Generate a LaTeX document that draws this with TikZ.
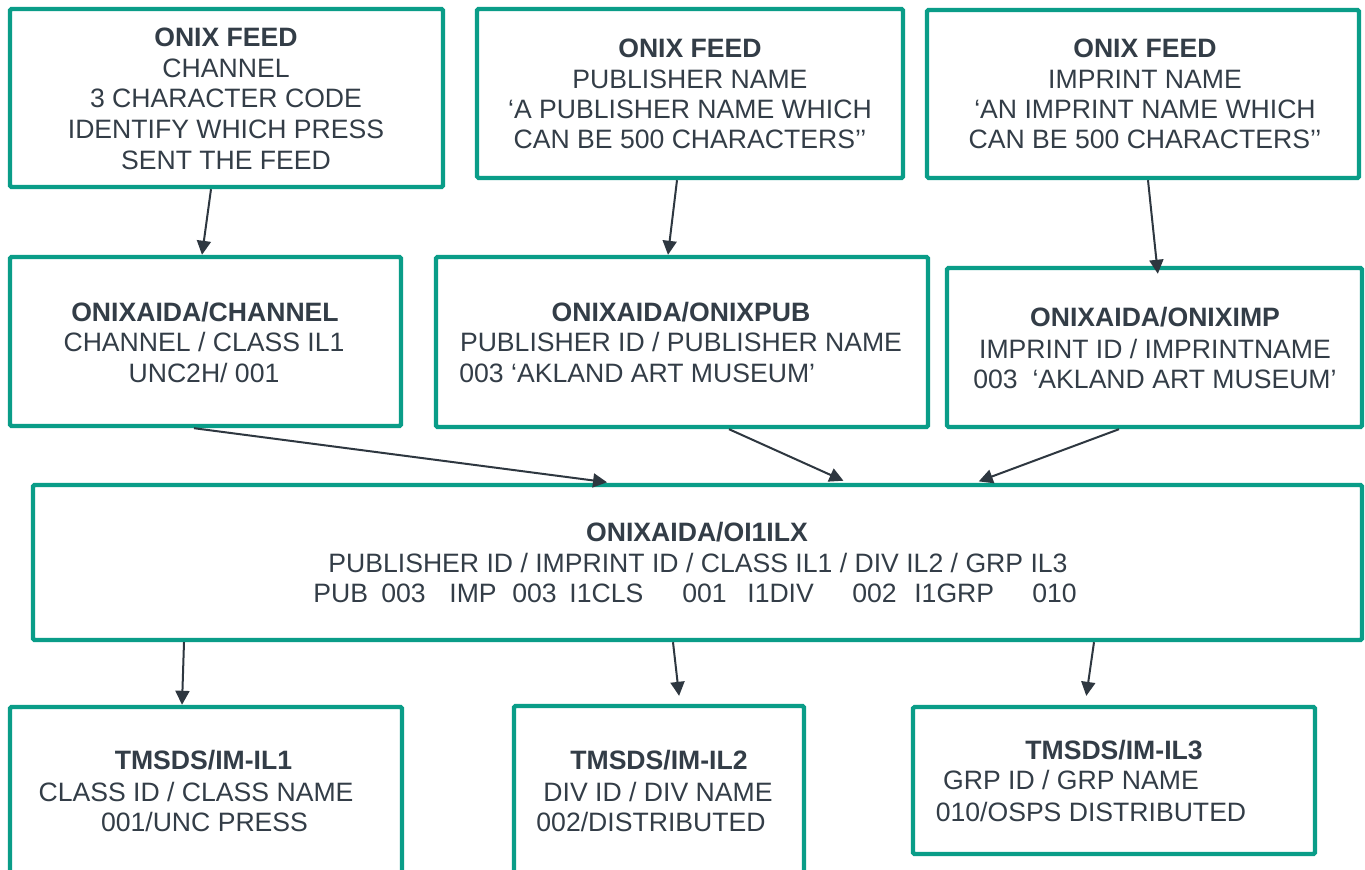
\documentclass[tikz,border=0pt]{standalone}
\usepackage{fontspec}
\setmainfont{Liberation Sans}
\usetikzlibrary{arrows.meta,fit}
\definecolor{boxteal}{HTML}{0A9D88}
\definecolor{ink}{HTML}{333D47}
\definecolor{arrowc}{HTML}{2E3740}
\begin{document}
\begin{tikzpicture}[x=0.5pt,y=-0.5pt,
  box/.style={draw=boxteal, line width=2.2pt, rounded corners=0.8pt, inner sep=0pt},
  t/.style={text=ink, inner sep=0pt, anchor=base, font=\fontsize{13.3pt}{16pt}\selectfont},
  tb/.style={t, font=\fontsize{13.3pt}{16pt}\selectfont\bfseries},
  tw/.style={t, anchor=base west},
  conn/.style={draw=arrowc, line width=1pt, -{Triangle[length=7pt,width=7pt]}}]
\fill[white] (0,0) rectangle (1365,870);
\useasboundingbox (0,0) rectangle (1365,870);

% boxes
\node[box, fit={(10,9) (443,187)}] (b1) {};
\node[box, fit={(477,9) (903,178)}] (b2) {};
\node[box, fit={(927,10) (1359,178)}] (b3) {};
\node[box, fit={(10,257) (401,426)}] (b4) {};
\node[box, fit={(436,257) (928,427)}] (b5) {};
\node[box, fit={(947,268) (1362,427)}] (b6) {};
\node[box, fit={(33,485) (1362,640)}] (b7) {};
\node[box, fit={(10,707) (402,900)}] (b8) {};
\node[box, fit={(514,706) (804,900)}] (b9) {};
\node[box, fit={(913,707) (1315,854)}] (b10) {};

% box 1
\node[tb] (t1a) at (226,46.5) {ONIX FEED};
\node[t] (t1b) at (226,77.5) {CHANNEL};
\node[t] (t1c) at (226,107.5) {3 CHARACTER CODE};
\node[t] (t1d) at (226,138.5) {IDENTIFY WHICH PRESS};
\node[t] (t1e) at (226,169.5) {SENT THE FEED};
% box 2
\node[tb] (t2a) at (690,57.5) {ONIX FEED};
\node[t] (t2b) at (690,88.5) {PUBLISHER NAME};
\node[t] (t2c) at (690,118.5) {‘A PUBLISHER NAME WHICH};
\node[t] (t2d) at (690,148.5) {CAN BE 500 CHARACTERS’’};
% box 3
\node[tb] (t3a) at (1145,57.5) {ONIX FEED};
\node[t] (t3b) at (1145,88.5) {IMPRINT NAME};
\node[t] (t3c) at (1145,118.5) {‘AN IMPRINT NAME WHICH};
\node[t] (t3d) at (1145,148.5) {CAN BE 500 CHARACTERS’’};
% box 4
\node[tb] (t4a) at (205,321.5) {ONIXAIDA/CHANNEL};
\node[t] (t4b) at (204,351.5) {CHANNEL / CLASS IL1};
\node[t] (t4c) at (204,382.5) {UNC2H/ 001};
% box 5
\node[tb] (t5a) at (681,321.5) {ONIXAIDA/ONIXPUB};
\node[t] (t5b) at (681,351.5) {PUBLISHER ID / PUBLISHER NAME};
\node[tw] (t5c) at (459,382.5) {003 ‘AKLAND ART MUSEUM’};
% box 6
\node[tb] (t6a) at (1155,326.5) {ONIXAIDA/ONIXIMP};
\node[t] (t6b) at (1155,358.5) {IMPRINT ID / IMPRINTNAME};
\node[tw] (t6c) at (973,388.5) {003\hspace{7.4pt}‘AKLAND ART MUSEUM’};
% box 7
\node[tb] (t7a) at (697,541.5) {ONIXAIDA/OI1ILX};
\node[tw] (t7b) at (328,572.5) {PUBLISHER ID / IMPRINT ID / CLASS IL1 / DIV IL2 / GRP IL3};
\node[tw] (t7c) at (313,602.5) {\makebox[34pt][l]{PUB}\makebox[34pt][l]{003}\makebox[31.5pt][l]{IMP}\makebox[28.5pt][l]{003}\makebox[56.5pt][l]{I1CLS}\makebox[32.5pt][l]{001}\makebox[52.5pt][l]{I1DIV}\makebox[31pt][l]{002}\makebox[59pt][l]{I1GRP}010};
% box 8
\node[tb] (t8a) at (203.5,769.5) {TMSDS/IM-IL1};
\node[t] (t8b) at (196,801.5) {CLASS ID / CLASS NAME};
\node[t] (t8c) at (204.5,831.5) {001/UNC PRESS};
% box 9
\node[tb] (t9a) at (659,769.5) {TMSDS/IM-IL2};
\node[t] (t9b) at (658,801.5) {DIV ID / DIV NAME};
\node[t] (t9c) at (651,831.5) {002/DISTRIBUTED};
% box 10
\node[tb] (t10a) at (1114,759.5) {TMSDS/IM-IL3};
\node[t] (t10b) at (1071,789.5) {GRP ID / GRP NAME};
\node[t] (t10c) at (1091,821.5) {010/OSPS DISTRIBUTED};

% connectors
\draw[conn] (b1.south -| 211,0) -- (b4.north -| 202,0);
\draw[conn] (b2.south -| 677,0) -- (b5.north -| 668,0);
\draw[conn, shorten >=-4pt] (b3.south -| 1148,0) -- (b6.north -| 1157,0);
\draw[conn, shorten >=2pt] (b4.south -| 194,0) -- (b7.north -| 611,0);
\draw[conn, shorten >=2.5pt] (b5.south -| 729,0) -- (b7.north -| 848,0);
\draw[conn, shorten >=2pt] (b6.south -| 1119,0) -- (b7.north -| 975,0);
\draw[conn] (b7.south -| 184,0) -- (b8.north -| 182,0);
\draw[conn, shorten >=4pt] (b7.south -| 673,0) -- (b9.north -| 680,0);
\draw[conn, shorten >=4.5pt] (b7.south -| 1094,0) -- (b10.north -| 1085,0);
\end{tikzpicture}
\end{document}
